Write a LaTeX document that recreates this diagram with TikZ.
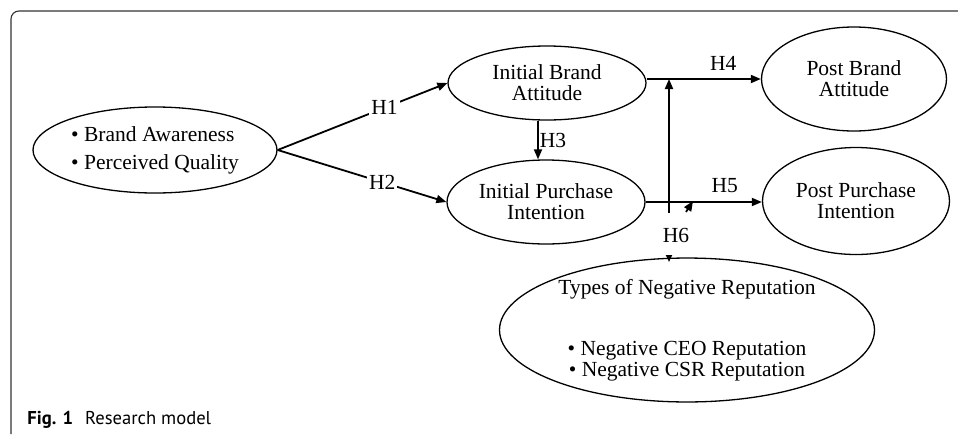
\documentclass[tikz,border=0pt]{standalone}
\usepackage{fontspec}
\setmainfont{Liberation Serif}
\newfontfamily\capfont{PT Sans}
\usetikzlibrary{shapes,arrows.meta,positioning,calc}

\begin{document}
\begin{tikzpicture}[x=0.5pt,y=-0.5pt,
    construct/.style={draw,ellipse,line width=0.65pt,inner sep=0pt,align=center,font=\fontsize{10.75}{10.5}\selectfont},
    hyp/.style={line width=0.9pt,-{Triangle[length=5pt,width=4pt]}},
    hlabel/.style={font=\fontsize{10.75}{10.5}\selectfont,inner sep=1pt}]
    \useasboundingbox (0,0) rectangle (958,434);

    % Frame
    \draw[line width=0.55pt,black!80,rounded corners=4pt] (11,434) -- (11,11) -- (958,11);

    % Constructs
    \node[construct,minimum width=122pt,minimum height=43pt,align=left] (qual) at (155,150) {• Brand Awareness\\[3.5pt]• Perceived Quality};
    \node[construct,minimum width=99pt,minimum height=37pt] (iba) at (547,83) {Initial Brand\\Attitude};
    \node[construct,minimum width=99pt,minimum height=42pt] (ipi) at (546,202) {Initial Purchase\\Intention};
    \node[construct,minimum width=92.5pt,minimum height=52pt] (pba) at (854,79) {Post Brand\\Attitude};
    \node[construct,minimum width=93.5pt,minimum height=53.5pt] (ppi) at (856,201) {Post Purchase\\Intention};
    \node[construct,minimum width=187.5pt,minimum height=67.5pt] (neg) at (687,330) {Types of Negative Reputation\\[20pt]• Negative CEO Reputation\\• Negative CSR Reputation};

    % Hypotheses
    \draw[hyp] (qual.east) -- node[hlabel,fill=white,pos=0.63] (h1) {H1} (iba.west);
    \draw[hyp] (qual.east) -- node[hlabel,fill=white,pos=0.62] (h2) {H2} (ipi.west);
    \draw[hyp] ([xshift=-4.5pt]iba.south) -- node[hlabel,right,inner sep=0.5pt] (h3) {H3} ([xshift=-4pt]ipi.north);
    \draw[hyp] (iba.east |- pba.west) -- node[hlabel,above=3pt,pos=0.67] (h4) {H4} (pba.west);
    \draw[hyp] (ipi.east) -- node[hlabel,above=3pt,pos=0.68] (h5) {H5} (ipi.east -| ppi.west);

    % Moderation
    \coordinate (m4) at (669,79);
    \coordinate (m6) at (669,213);
    \coordinate (n6) at (669,262);
    \coordinate (s5) at (686,212);
    \coordinate (t5) at (693,201);
    \draw[hyp] (m6) -- (m4);
    \node[hlabel] (h6) at (676,235) {H6};
    \draw[line width=0.9pt,-{Triangle[length=3.5pt,width=3pt]}] ([yshift=3pt]n6) -- (n6);
    \draw[hyp] (s5) -- (t5);

    % Caption
    \node[anchor=base west,inner sep=0pt,font=\capfont\fontsize{9.3}{11}\selectfont] (cap) at (27,424) {\textbf{Fig. 1}\hspace{6pt}Research model};
\end{tikzpicture}
\end{document}
